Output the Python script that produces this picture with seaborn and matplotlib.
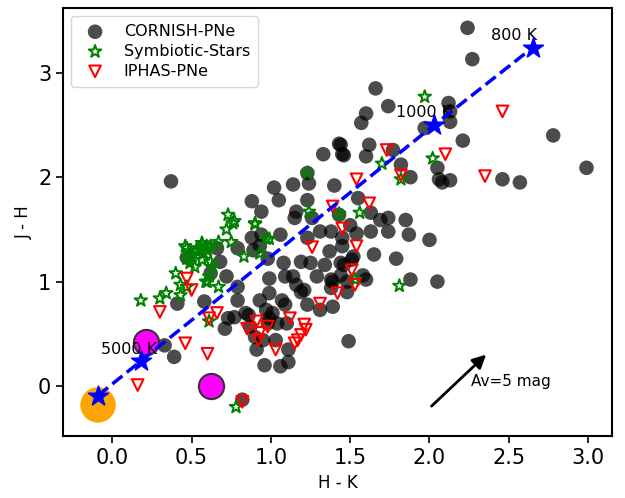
import matplotlib
matplotlib.use("Agg")
import matplotlib.pyplot as plt
import seaborn as sns
import numpy as np

# ---------------- data ----------------
cornish_hk = [2.24, 2.27, 2.12, 2.13, 2.13, 1.97, 1.74, 1.66, 1.60, 1.57, 2.21, 2.78, 2.99, 2.46, 2.57,
              1.82, 1.77, 2.05, 1.88, 2.06, 2.08, 2.13, 1.44, 1.62, 1.46, 1.60, 1.43, 1.33, 1.45,
              1.23, 0.37, 1.02, 1.14, 1.24, 1.40, 0.88, 1.05, 1.23, 1.55,
              0.94, 1.16, 1.15, 1.26, 1.43, 1.50, 1.63, 1.69, 1.74, 1.85,
              0.88, 0.94, 1.06, 1.23, 1.31, 1.38, 1.45, 1.54, 1.63, 1.74, 1.87, 2.00,
              0.79, 0.89, 0.93, 0.98, 1.08, 1.19, 1.25, 1.34, 1.37, 1.45, 1.46, 1.52, 1.65, 1.79, 1.51, 1.44,
              0.66, 0.68, 0.62, 0.72, 0.79, 0.99, 1.09, 1.14, 1.16, 1.19, 1.29, 1.38, 1.44, 1.58, 1.60, 1.48,
              1.88, 2.05, 1.39, 0.47, 0.41, 0.58, 0.79, 0.93, 0.99, 1.07, 1.09, 1.23, 1.39, 0.97, 1.01,
              0.84, 0.77, 0.73, 0.71, 0.99, 0.98, 1.04, 0.87, 1.10, 0.39, 0.33, 0.91, 0.95, 1.03, 1.11,
              1.11, 1.49, 0.96, 1.06, 0.82, 0.90, 1.31, 0.86, 1.38, 1.48, 1.21]
cornish_jh = [3.43, 3.13, 2.71, 2.63, 2.53, 2.47, 2.68, 2.85, 2.61, 2.52, 2.35, 2.40, 2.09, 1.98, 1.95,
              2.12, 2.26, 2.09, 2.00, 1.98, 1.95, 1.97, 2.31, 2.31, 2.21, 2.20, 2.32, 2.22, 2.22,
              2.04, 1.96, 1.90, 1.93, 1.94, 1.92, 1.77, 1.78, 1.78, 1.80,
              1.67, 1.67, 1.61, 1.61, 1.64, 1.54, 1.66, 1.59, 1.61, 1.59,
              1.42, 1.45, 1.45, 1.42, 1.48, 1.48, 1.42, 1.46, 1.48, 1.48, 1.45, 1.40,
              1.32, 1.30, 1.34, 1.22, 1.18, 1.19, 1.18, 1.16, 1.29, 1.34, 1.16, 1.24, 1.26, 1.22, 1.21, 1.18,
              1.32, 1.19, 1.08, 1.05, 0.95, 1.03, 1.05, 1.05, 0.97, 0.90, 1.05, 1.02, 1.06, 1.06, 1.02, 1.00,
              1.02, 1.00, 1.00, 1.23, 0.79, 0.81, 0.82, 0.82, 0.89, 0.82, 0.78, 0.78, 0.76, 0.73, 0.70,
              0.70, 0.66, 0.65, 0.55, 0.65, 0.60, 0.60, 0.57, 0.60, 0.28, 0.39, 0.35, 0.44, 0.44, 0.35,
              0.23, 0.43, 0.20, 0.19, -0.13, 0.47, 0.73, 0.68, 0.94, 0.90, 0.92]

symb_hk = [1.23, 1.70, 2.02, 1.82, 0.73, 0.77, 0.72, 0.90, 0.67, 0.75, 0.97,
           0.565, 0.55, 0.595, 0.533, 0.575, 0.50, 0.47, 0.49, 0.52, 0.565, 0.62, 0.63, 0.47, 0.62,
           0.83, 0.93, 0.40, 0.43, 0.47, 0.61, 0.59, 0.67, 0.43, 0.30, 0.34, 0.18,
           1.24, 1.43, 1.56, 1.53, 1.81, 0.61, 1.97, 0.78, 0.57, 0.60, 0.53, 0.46,
           0.76, 0.90, 0.99, 0.60]
symb_jh = [2.04, 2.13, 2.18, 1.98, 1.64, 1.58, 1.50, 1.56, 1.38, 1.38, 1.41,
           1.37, 1.32, 1.34, 1.29, 1.27, 1.24, 1.22, 1.18, 1.14, 1.21, 1.19, 1.14, 1.32, 1.34,
           1.24, 1.27, 1.08, 0.97, 0.95, 1.05, 1.00, 0.95, 0.87, 0.84, 0.89, 0.82,
           1.67, 1.65, 1.66, 1.02, 0.96, 0.62, 2.77, -0.20, 1.35, 1.30, 1.30, 1.34,
           1.56, 1.55, 1.41, 1.00]

iphas_hk = [1.73, 2.10, 1.82, 1.54, 1.62, 1.39, 1.45, 1.26, 1.54, 1.51, 1.53, 0.47, 0.50,
            1.42, 1.31, 0.30, 0.61, 0.66, 0.85, 0.91, 0.98, 1.12, 0.93, 0.92,
            1.21, 1.22, 1.19, 1.17, 1.15, 1.03, 0.46, 0.60, 2.46, 2.35, 0.16, 0.82]
iphas_jh = [2.26, 2.22, 2.02, 1.98, 1.75, 1.72, 1.51, 1.33, 1.34, 1.11, 0.97, 1.03, 0.92,
            0.89, 0.79, 0.71, 0.65, 0.70, 0.55, 0.62, 0.57, 0.65, 0.51, 0.44,
            0.59, 0.54, 0.49, 0.44, 0.41, 0.35, 0.41, 0.31, 2.63, 2.01, 0.01, -0.15]

bb_hk = [-0.09, 0.18, 2.03, 2.65]
bb_jh = [-0.09, 0.24, 2.50, 3.24]
bb_labels = ["", "5000 K", "1000 K", "800 K"]
bb_label_pos = [(None, None), (-0.07, 0.35), (1.79, 2.62), (2.39, 3.36)]

orange_hk, orange_jh = [-0.09], [-0.18]
magenta_hk, magenta_jh = [0.21, 0.62], [0.42, 0.00]

arrow_start = (2.00, -0.21)
arrow_end = (2.37, 0.32)

# ---------------- plot ----------------
sns.set_style("ticks")
plt.rcParams['font.family'] = ['DejaVu Sans']
plt.rcParams.update({'text.color': 'black', 'axes.labelcolor': 'black',
                     'xtick.color': 'black', 'ytick.color': 'black'})
fig = plt.figure(figsize=(6.25, 4.98), dpi=100)
ax = fig.add_axes([0.101, 0.124, 0.878, 0.86])

sns.scatterplot(x=cornish_hk, y=cornish_jh, ax=ax, color='black', alpha=0.7, s=110,
                edgecolor='none', label='CORNISH-PNe', zorder=2)
sns.scatterplot(x=symb_hk, y=symb_jh, ax=ax, marker='*', s=90, facecolor='none',
                edgecolor='green', linewidth=1.4, label='Symbiotic-Stars', zorder=3)
sns.scatterplot(x=iphas_hk, y=iphas_jh, ax=ax, marker='v', s=70, facecolor='none',
                edgecolor='red', linewidth=1.5, label='IPHAS-PNe', zorder=3)

sns.scatterplot(x=orange_hk, y=orange_jh, ax=ax, color='orange', s=650, edgecolor='none',
                zorder=4, legend=False)
sns.scatterplot(x=magenta_hk, y=magenta_jh, ax=ax, color='magenta', s=330, edgecolor='#333333',
                linewidth=1.5, zorder=4, legend=False)

for lab, (lx, ly) in zip(bb_labels, bb_label_pos):
    if lab:
        ax.text(lx, ly, lab, fontsize=11.5, va='center', ha='left', color='black', zorder=4.5)
sns.lineplot(x=bb_hk, y=bb_jh, ax=ax, sort=False, color='blue', linestyle='--', linewidth=2.5,
             zorder=5, legend=False)
sns.scatterplot(x=bb_hk, y=bb_jh, ax=ax, marker='*', color='blue', s=220, edgecolor='blue',
                zorder=6, legend=False)

ax.annotate('', xy=arrow_end, xytext=arrow_start,
            arrowprops=dict(arrowstyle='-|>', color='black', lw=2, mutation_scale=20))
ax.text(2.26, 0.04, 'Av=5 mag', fontsize=11, va='center', ha='left', color='black')

ax.set_xlim(-0.31, 3.15)
ax.set_ylim(-0.48, 3.62)
ax.set_xticks([0.0, 0.5, 1.0, 1.5, 2.0, 2.5, 3.0])
ax.set_yticks([0, 1, 2, 3])
ax.tick_params(labelsize=15, length=5, width=1.2, color='black', labelcolor='black')
for sp in ax.spines.values():
    sp.set_color('black')
    sp.set_linewidth(1.5)
ax.set_xlabel('H - K', fontsize=12, color='black')
ax.set_ylabel('J - H', fontsize=12, color='black')

leg = ax.legend(loc='upper left', fontsize=11.5, frameon=True, handletextpad=0.8,
                borderpad=0.5, labelspacing=0.3)
leg.get_frame().set_edgecolor('#cccccc')
for t in leg.get_texts():
    t.set_color('black')

fig.savefig('out.png', dpi=100)
